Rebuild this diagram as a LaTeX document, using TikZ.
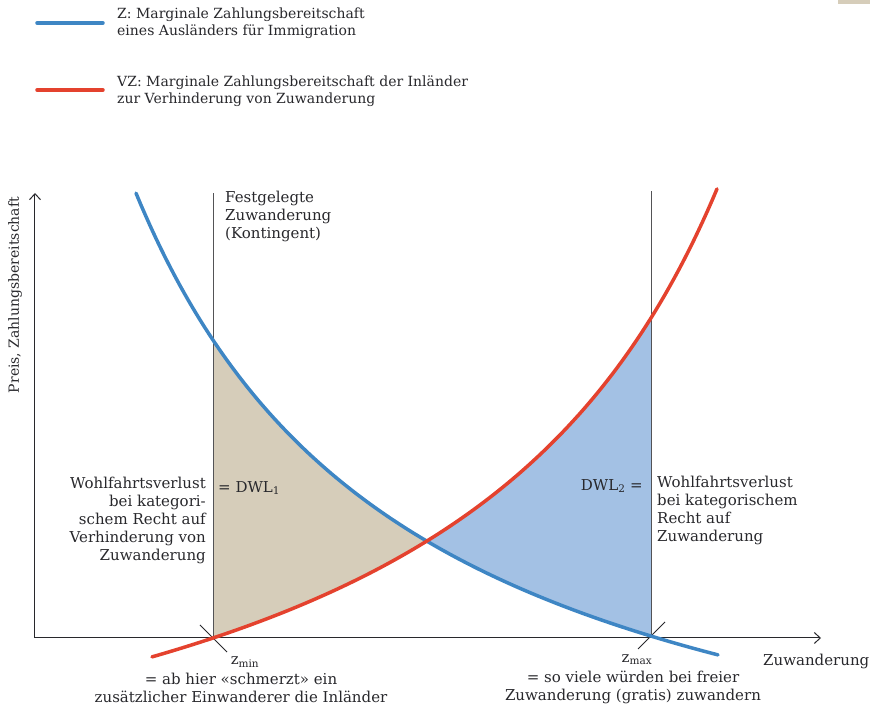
\documentclass[tikz,border=0pt]{standalone}
\usepackage{fontspec}
\setmainfont{DejaVu Serif}
\usepackage{tikz}
\usetikzlibrary{arrows,arrows.meta,positioning,calc}
\usepackage{xcolor}
\definecolor{zblue}{RGB}{62,134,196}
\definecolor{vzred}{RGB}{228,66,46}
\definecolor{dwlone}{RGB}{214,205,186}
\definecolor{dwltwo}{RGB}{163,193,228}
\definecolor{ink}{RGB}{40,40,44}

\begin{document}
\begin{tikzpicture}[x=1pt,y=1pt,
    >={Straight Barb[length=6pt,width=11pt]},
    declare function={bz(\x)=336.4/(1-(394-\x)/575.2)-240.8;
                      vz(\x)=366.3/(1-(\x-394)/588.8)-268;},
    txt/.style={font=\fontsize{15}{18}\selectfont, inner sep=0pt, text=ink},
    keytxt/.style={font=\fontsize{14}{17}\selectfont, inner sep=0pt, text=ink},
    curve/.style={line width=3.5pt, line cap=round}]
  \useasboundingbox (-35,-71) rectangle (835,638);
  \fill[dwlone] (803,634) rectangle (835,638);
  % legend
  \coordinate (zkeyA) at (2,615);
  \coordinate (zkeyB) at (68,615);
  \draw[curve, zblue] (zkeyA) -- (zkeyB);
  \node[keytxt, anchor=west, align=left] (zkey) at (82,615) {Z: Marginale Zahlungsbereitschaft\\eines Ausländers für Immigration};
  \coordinate (vzkeyA) at (2,548);
  \coordinate (vzkeyB) at (68,548);
  \draw[curve, vzred] (vzkeyA) -- (vzkeyB);
  \node[keytxt, anchor=west, align=left] (vzkey) at (82,547) {VZ: Marginale Zahlungsbereitschaft der Inländer\\zur Verhinderung von Zuwanderung};
  % deadweight areas
  \fill[dwlone] plot[domain=178:394, samples=60] (\x,{bz(\x)}) -- plot[domain=394:178, samples=60] (\x,{vz(\x)}) -- cycle;
  \fill[dwltwo] plot[domain=394:616, samples=60] (\x,{vz(\x)}) -- plot[domain=616:394, samples=60] (\x,{bz(\x)}) -- cycle;
  % axes
  \coordinate (O) at (0,0);
  \coordinate (xend) at (786,0);
  \coordinate (yend) at (0,445);
  \draw[->, ink, line width=1pt] (O) -- (xend);
  \draw[->, ink, line width=1pt] (O) -- (yend);
  \node[keytxt, rotate=90] (ylab) at (-20,343) {Preis, Zahlungsbereitschaft};
  \node[txt, anchor=base west] (xlab) at (728,-28) {Zuwanderung};
  % quota lines
  \coordinate (zmin) at (178,0);
  \coordinate (zmintop) at (178,445);
  \coordinate (zmax) at (616,0);
  \coordinate (zmaxtop) at (616,447);
  \draw[ink!80, line width=0.7pt] (zmin) -- (zmintop);
  \draw[ink!80, line width=0.7pt] (zmax) -- (zmaxtop);
  \draw[ink, line width=0.8pt] ($(zmin)+(-13,13)$) -- ($(zmin)+(14,-14)$);
  \draw[ink, line width=0.8pt] ($(zmax)+(-13,-11)$) -- ($(zmax)+(14,16)$);
  % curves
  \draw[curve, zblue] plot[domain=101:683, samples=120] (\x,{bz(\x)});
  \draw[curve, vzred] plot[domain=117:682, samples=120] (\x,{vz(\x)});
  % labels
  \node[txt, anchor=north west, align=left] (quota) at (190,447) {Festgelegte\\Zuwanderung\\(Kontingent)};
  \node[txt, anchor=north east, align=right] (loss1) at (171,161) {Wohlfahrtsverlust\\bei kategori-\\schem Recht auf\\Verhinderung von\\Zuwanderung};
  \node[txt, anchor=west] (dwl1) at (183,150) {= DWL\textsubscript{1}};
  \node[txt, anchor=east] (dwl2) at (608,152) {DWL\textsubscript{2} =};
  \node[txt, anchor=north west, align=left] (loss2) at (622,162) {Wohlfahrtsverlust\\bei kategorischem\\Recht auf\\Zuwanderung};
  \node[txt] (zminlab) at (210,-24) {z\textsubscript{min}};
  \node[txt, align=center] (zmintxt) at (206,-50) {= ab hier «schmerzt» ein\\zusätzlicher Einwanderer die Inländer};
  \node[txt] (zmaxlab) at (602,-22) {z\textsubscript{max}};
  \node[txt, align=center] (zmaxtxt) at (598,-49) {= so viele würden bei freier\\Zuwanderung (gratis) zuwandern};
\end{tikzpicture}
\end{document}
